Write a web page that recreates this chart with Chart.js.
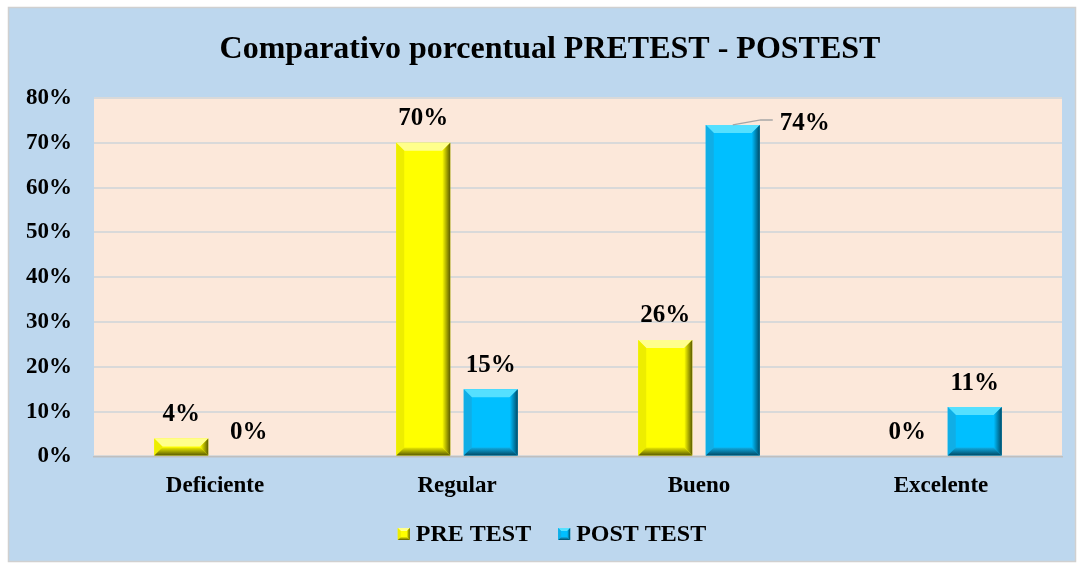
<!DOCTYPE html>
<html>
<head>
<meta charset="utf-8">
<script src="https://cdn.jsdelivr.net/npm/chart.js@4.4.1/dist/chart.umd.min.js"></script>
<style>
  html, body { margin: 0; padding: 0; background: #fff; }
  canvas { display: block; }
</style>
</head>
<body>
<canvas id="grafico" width="1081" height="564"></canvas>
<script>
// datos del grafico
const categorias = ['Deficiente', 'Regular', 'Bueno', 'Excelente'];
const preTest = [4, 70, 26, 0];
const postTest = [0, 15, 74, 11];
const nombres = ['PRE TEST', 'POST TEST'];
const yTicks = [0, 10, 20, 30, 40, 50, 60, 70, 80];

const colores = ['#FFFF00', '#00BFFF'];
const claro = ['#FFFF8C', '#55E0FF'];
const oscuro = ['#5C5C00', '#004A66'];
const lado = ['#EDED00', '#10AEE6'];
const fuente = '"Liberation Serif", "Times New Roman", serif';

// fondo azul con marco gris y area del grafico color durazno
const fondo = {
  id: 'fondo',
  afterLayout(chart) {
    // el titulo va centrado sobre todo el recuadro azul
    chart.titleBlock.left += 38;
  },
  beforeDraw(chart) {
    const { ctx, chartArea: a } = chart;
    ctx.save();
    ctx.fillStyle = '#ffffff';
    ctx.fillRect(0, 0, chart.width, chart.height);
    ctx.fillStyle = '#BDD7EE';
    ctx.fillRect(9, 8, 1066, 553);
    ctx.strokeStyle = '#d0d0d0';
    ctx.lineWidth = 1.5;
    ctx.strokeRect(8.5, 7.5, 1067, 554);
    ctx.fillStyle = '#FCE8DA';
    ctx.fillRect(a.left, a.top, a.right - a.left, a.bottom - a.top);
    ctx.restore();
  }
};

// biselado de barras
function bisel(ctx, x0, y0, x1, y1, i, b) {
  const h = y1 - y0;
  if (h < 1) return;
  const bv = Math.min(b, h / 2, (x1 - x0) / 2);
  ctx.fillStyle = claro[i];
  ctx.beginPath();
  ctx.moveTo(x0, y0); ctx.lineTo(x1, y0); ctx.lineTo(x1 - bv, y0 + bv); ctx.lineTo(x0 + bv, y0 + bv);
  ctx.fill();
  ctx.fillStyle = lado[i];
  ctx.beginPath();
  ctx.moveTo(x0, y0); ctx.lineTo(x0 + bv, y0 + bv); ctx.lineTo(x0 + bv, y1 - bv); ctx.lineTo(x0, y1);
  ctx.fill();
  const g = ctx.createLinearGradient(x1 - bv, 0, x1, 0);
  g.addColorStop(0, colores[i]);
  g.addColorStop(1, oscuro[i]);
  ctx.fillStyle = g;
  ctx.beginPath();
  ctx.moveTo(x1, y0); ctx.lineTo(x1, y1); ctx.lineTo(x1 - bv, y1 - bv); ctx.lineTo(x1 - bv, y0 + bv);
  ctx.fill();
  const g2 = ctx.createLinearGradient(0, y1 - bv, 0, y1);
  g2.addColorStop(0, lado[i]);
  g2.addColorStop(1, oscuro[i]);
  ctx.fillStyle = g2;
  ctx.beginPath();
  ctx.moveTo(x0, y1); ctx.lineTo(x1, y1); ctx.lineTo(x1 - bv, y1 - bv); ctx.lineTo(x0 + bv, y1 - bv);
  ctx.fill();
}

const biselado = {
  id: 'biselado',
  afterDatasetsDraw(chart) {
    const ctx = chart.ctx;
    ctx.save();
    chart.data.datasets.forEach((ds, i) => {
      chart.getDatasetMeta(i).data.forEach(bar => {
        const p = bar.getProps(['x', 'y', 'base', 'width'], true);
        bisel(ctx, p.x - p.width / 2, Math.min(p.y, p.base), p.x + p.width / 2, Math.max(p.y, p.base), i, 8);
      });
    });
    ctx.restore();
  }
};

// leyenda abajo, dibujada a mano
const leyenda = {
  id: 'leyenda',
  afterDraw(chart) {
    const ctx = chart.ctx;
    ctx.save();
    ctx.font = 'bold 24px ' + fuente;
    ctx.fillStyle = '#000';
    ctx.textBaseline = 'middle';
    ctx.textAlign = 'left';
    const anchos = chart.data.datasets.map(ds => ctx.measureText(ds.label).width);
    const total = anchos.reduce((s, w) => s + 18 + w, 0) + 27 * (anchos.length - 1);
    let x = (chart.width + 23) / 2 - total / 2;
    const y = chart.height - 30;
    chart.data.datasets.forEach((ds, i) => {
      ctx.fillStyle = colores[i];
      ctx.fillRect(x, y - 6, 12, 12);
      bisel(ctx, x, y - 6, x + 12, y + 6, i, 3);
      ctx.fillStyle = '#000';
      ctx.fillText(ds.label, x + 18, y + 1);
      x += 18 + anchos[i] + 27;
    });
    ctx.restore();
  }
};

// etiquetas de datos
const etiquetas = {
  id: 'etiquetas',
  afterDatasetsDraw(chart) {
    const ctx = chart.ctx;
    ctx.save();
    ctx.font = 'bold 25px ' + fuente;
    ctx.fillStyle = '#000';
    ctx.textAlign = 'center';
    ctx.textBaseline = 'middle';
    chart.data.datasets.forEach((ds, i) => {
      chart.getDatasetMeta(i).data.forEach((bar, j) => {
        const p = bar.getProps(['x', 'y'], true);
        const txt = ds.data[j] + '%';
        if (i === 1 && j === 2) {
          // etiqueta desplazada con linea guia
          ctx.strokeStyle = '#a6a6a6';
          ctx.lineWidth = 1.5;
          ctx.beginPath();
          ctx.moveTo(p.x, p.y);
          ctx.lineTo(p.x + 28, p.y - 5);
          ctx.lineTo(p.x + 40, p.y - 5);
          ctx.stroke();
          ctx.fillText(txt, p.x + 72, p.y - 1);
        } else {
          ctx.fillText(txt, p.x, p.y - 24);
        }
      });
    });
    ctx.restore();
  }
};

new Chart(document.getElementById('grafico'), {
  type: 'bar',
  data: {
    labels: categorias,
    datasets: [
      { label: nombres[0], data: preTest, backgroundColor: colores[0] },
      { label: nombres[1], data: postTest, backgroundColor: colores[1] }
    ]
  },
  options: {
    responsive: false,
    animation: false,
    devicePixelRatio: 1,
    categoryPercentage: 0.558,
    barPercentage: 0.8,
    layout: { padding: { left: 0, right: 19, top: 8, bottom: 48 } },
    plugins: {
      title: {
        display: true,
        text: 'Comparativo porcentual PRETEST - POSTEST',
        color: '#000',
        font: { family: fuente, size: 32, weight: 'bold' },
        padding: { top: 23, bottom: 28.6 }
      },
      legend: { display: false },
      tooltip: { enabled: false }
    },
    scales: {
      x: {
        grid: { display: false, drawTicks: false },
        border: { color: '#bfbfbf', width: 1.5 },
        ticks: {
          color: '#000',
          padding: 16,
          font: { family: fuente, size: 23, weight: 'bold' }
        }
      },
      y: {
        min: 0,
        max: 80,
        afterFit(scale) { scale.width = 94; },
        afterBuildTicks(scale) { scale.ticks = yTicks.map(v => ({ value: v })); },
        grid: { color: '#d9d9d9', lineWidth: 2, drawTicks: false },
        border: { display: false },
        ticks: {
          color: '#000',
          padding: 22,
          font: { family: fuente, size: 23, weight: 'bold' },
          callback: v => v + '%'
        }
      }
    }
  },
  plugins: [fondo, biselado, etiquetas, leyenda]
});
</script>
</body>
</html>
